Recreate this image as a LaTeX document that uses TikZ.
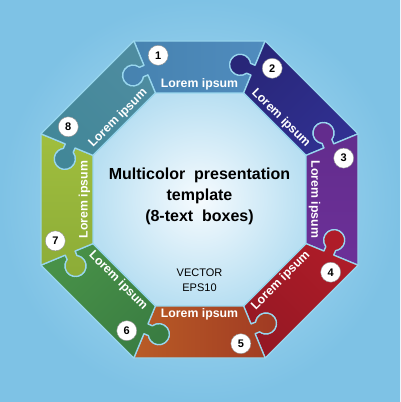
\documentclass[tikz,border=0pt]{standalone}
\usepackage{fontspec}
\setmainfont{Liberation Sans}
\usetikzlibrary{calc}

\definecolor{bgin}{RGB}{180,226,245}
\definecolor{bgout}{RGB}{126,194,229}
\definecolor{midin}{RGB}{246,251,254}
\definecolor{midout}{RGB}{184,223,242}
\definecolor{rim}{RGB}{152,214,238}
% piece colours: l = ccw end, m = middle, r = cw end
\definecolor{c1l}{RGB}{70,130,175}  \definecolor{c1m}{RGB}{110,195,242} \definecolor{c1r}{RGB}{80,140,190}
\definecolor{c2l}{RGB}{40,38,120}   \definecolor{c2m}{RGB}{56,60,168}   \definecolor{c2r}{RGB}{48,48,145}
\definecolor{c3l}{RGB}{98,44,140}   \definecolor{c3m}{RGB}{130,66,175}  \definecolor{c3r}{RGB}{108,48,152}
\definecolor{c4l}{RGB}{175,28,40}   \definecolor{c4m}{RGB}{228,50,52}   \definecolor{c4r}{RGB}{150,24,36}
\definecolor{c5l}{RGB}{160,58,35}   \definecolor{c5m}{RGB}{238,130,48}  \definecolor{c5r}{RGB}{185,92,38}
\definecolor{c6l}{RGB}{58,125,66}   \definecolor{c6m}{RGB}{100,185,100} \definecolor{c6r}{RGB}{72,145,72}
\definecolor{c7l}{RGB}{140,172,55}  \definecolor{c7m}{RGB}{195,220,78}  \definecolor{c7r}{RGB}{160,190,62}
\definecolor{c8l}{RGB}{66,135,152}  \definecolor{c8m}{RGB}{95,172,192}  \definecolor{c8r}{RGB}{78,140,160}

\tikzset{
  piece/.style={draw=rim, line width=1.3, line join=round},
  num/.style={circle, fill=white, draw=black!45, line width=0.4, inner sep=0,
    minimum size=20, font=\bfseries\fontsize{11}{11}\selectfont},
  lbl/.style={text=white, inner sep=0, font=\bfseries\fontsize{12.3}{14}\selectfont},
}

\begin{document}
\begin{tikzpicture}[x=1pt, y=1pt]
  \def\Ro{171.6} \def\Ri{115.3}
  \def\sc{140} \def\tc{14} \def\kr{10.5} \def\w{5.25} \def\nk{4.9}
  \useasboundingbox (-199.5,-202.5) rectangle (200.5,199.5);
  \shade[inner color=bgin, outer color=bgout] (-199.5,-202.5) rectangle (200.5,199.5);
  \shade[inner color=midin, outer color=midout]
    (22.5:{\Ri+2}) \foreach \i in {1,...,7}{ -- ({22.5+45*\i}:{\Ri+2})} -- cycle;

  % puzzle pieces
  \foreach \k in {1,...,8}{
    \pgfmathsetmacro\a{112.5-45*(\k-1)}
    \pgfmathsetmacro\b{\a-45}
    \pgfmathsetmacro\m{\a-22.5}
    \path[piece, left color=c\k l, middle color=c\k m, right color=c\k r, shading angle=\m]
      (\a:\Ro) -- (\b:\Ro)
      -- (\b:{\sc+\w}) -- ($(\b:{\sc+\w})+(\b+90:\nk)$)
      arc[start angle=\b-60, end angle=\b+240, radius=\kr]
      -- (\b:{\sc-\w}) -- (\b:\Ri) -- (\a:\Ri)
      -- (\a:{\sc-\w}) -- ($(\a:{\sc-\w})+(\a+90:\nk)$)
      arc[start angle=\a+240, end angle=\a-60, radius=\kr]
      -- (\a:{\sc+\w}) -- cycle;
  }

  % labels and numbers
  \foreach \k/\rot in {1/0, 2/-45, 3/-90, 4/45, 5/0, 6/-45, 7/90, 8/45}{
    \pgfmathsetmacro\m{90-45*(\k-1)}
    \node[lbl, rotate=\rot] (l_\k) at (\m:115) {Lorem ipsum};
    \node[num] (n_\k) at ({\m+16}:150) {\k};
  }

  \node[align=center, font=\bfseries\fontsize{16}{21}\selectfont] (title) at (0,3.5)
    {Multicolor~ presentation\\template\\(8-text~ boxes)};
  \node[align=center, font=\fontsize{11}{15}\selectfont] (vec) at (0,-81) {VECTOR\\EPS10};
\end{tikzpicture}
\end{document}
